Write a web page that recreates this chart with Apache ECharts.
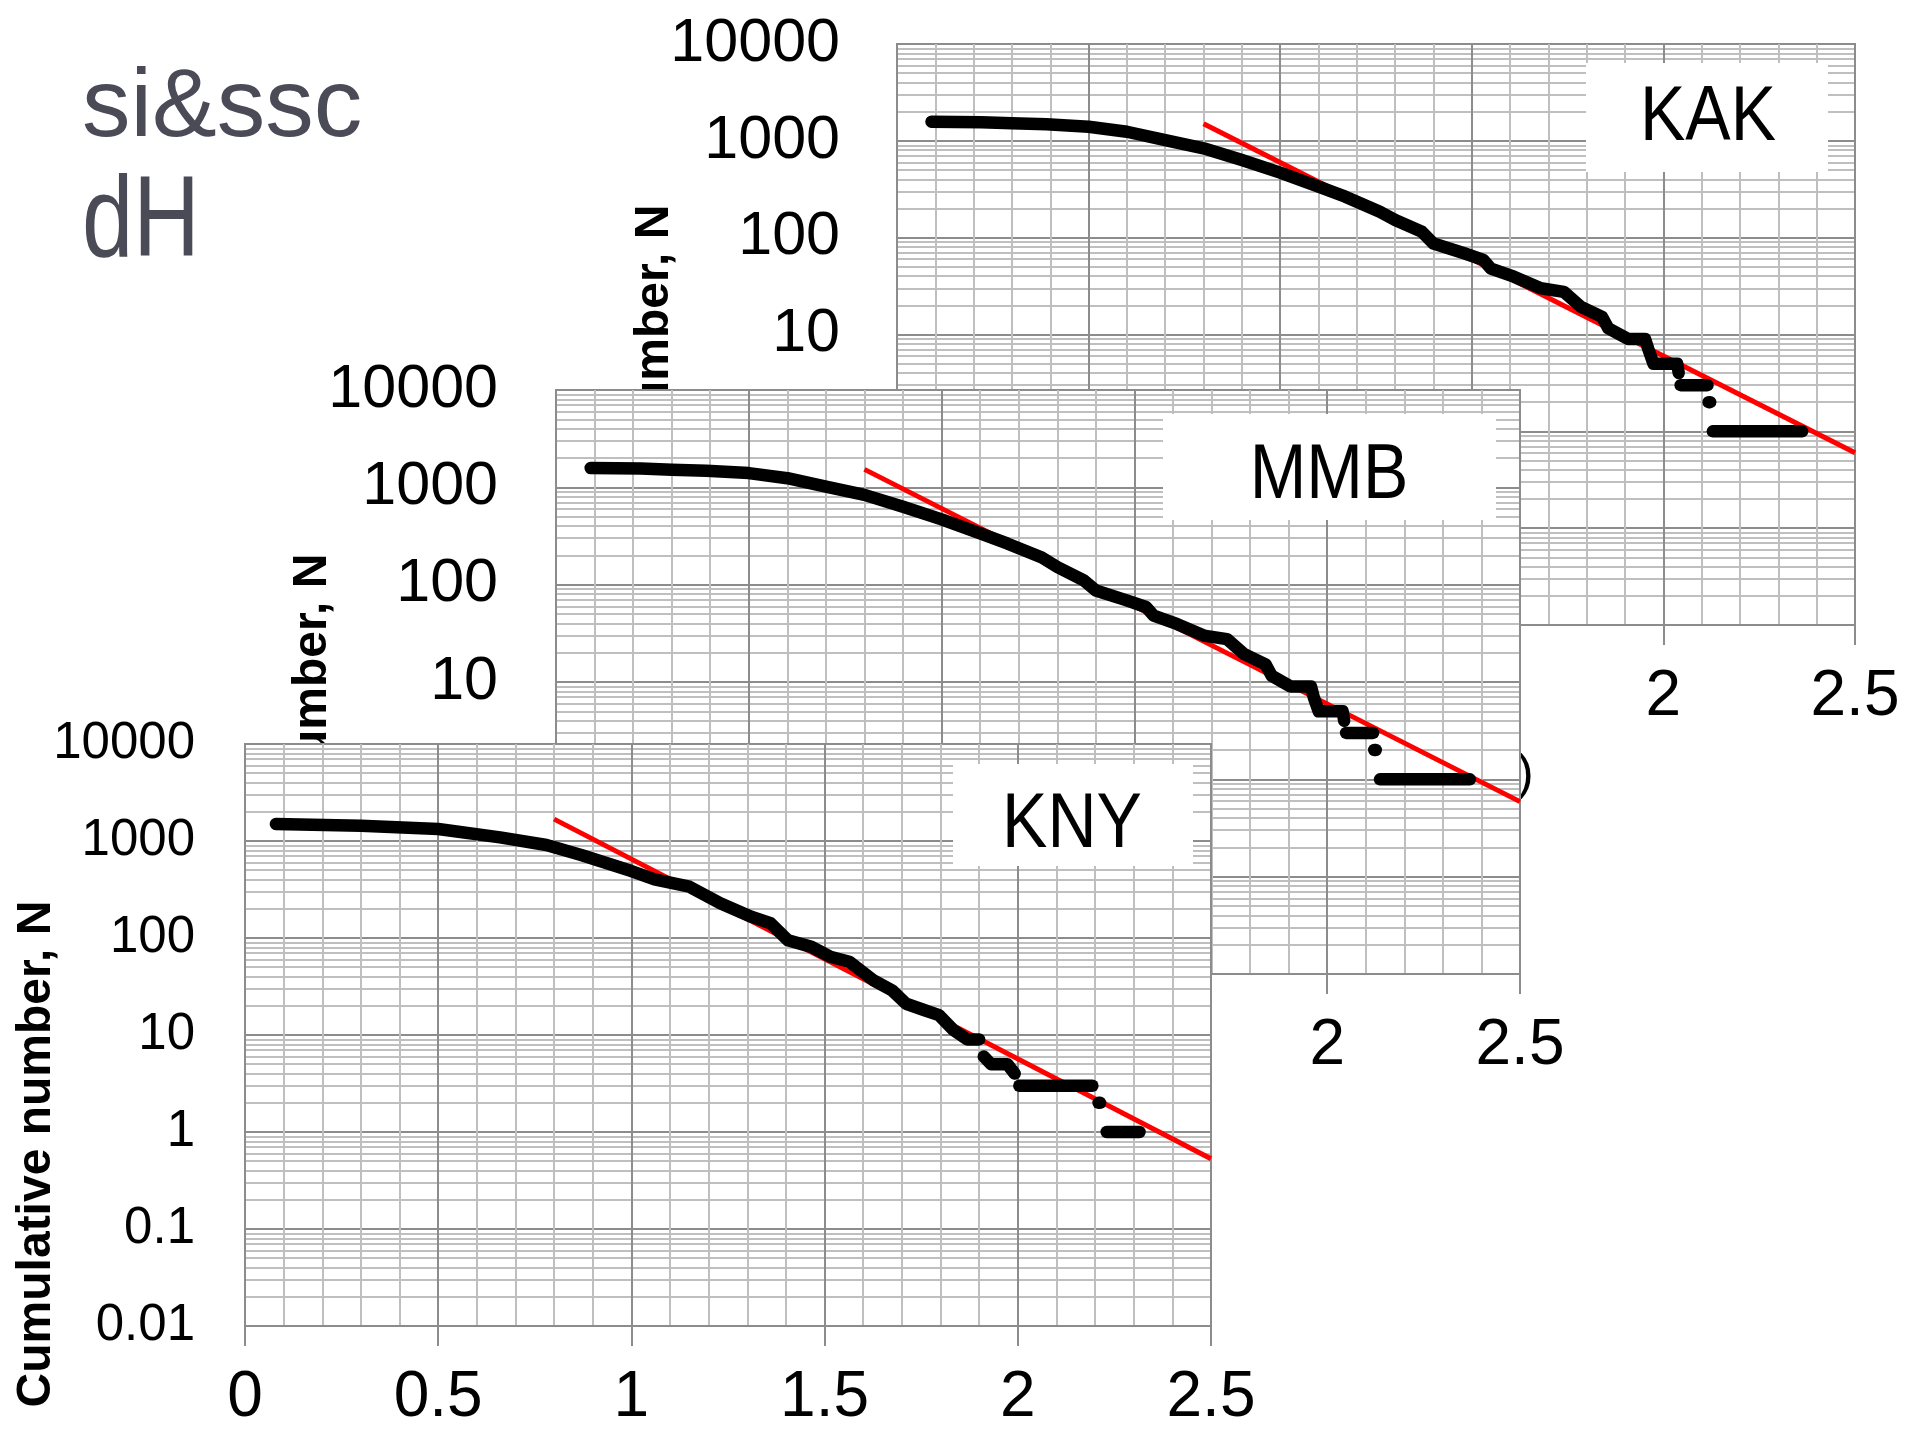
<!DOCTYPE html>
<html><head><meta charset="utf-8">
<script src="https://cdn.jsdelivr.net/npm/echarts@6/dist/echarts.min.js"></script>
<style>html,body{margin:0;padding:0;background:#fff}#c{width:1910px;height:1431px}</style>
</head><body><div id="c"></div>
<script>
// ================= DATA =================
const xTickLabels = ['0', '0.5', '1', '1.5', '2', '2.5'];
const yTickLabels = ['0.01', '0.1', '1', '10', '100', '1000', '10000'];
const minorGridValues = [
  0.02, 0.03, 0.04, 0.05, 0.06, 0.07, 0.08, 0.09,
  0.2, 0.3, 0.4, 0.5, 0.6, 0.7, 0.8, 0.9,
  2, 3, 4, 5, 6, 7, 8, 9,
  20, 30, 40, 50, 60, 70, 80, 90,
  200, 300, 400, 500, 600, 700, 800, 900,
  2000, 3000, 4000, 5000, 6000, 7000, 8000, 9000
];
const panelNames = ['KAK', 'MMB', 'KNY'];
const headerLines = ['si&ssc', 'dH'];
const yAxisTitle = 'Cumulative number, N';

// KAK
const kakMain = [[0.09,1577],[0.22,1560],[0.30,1517],[0.39,1480],[0.50,1400],[0.60,1241],[0.70,1019],
  [0.80,837],[0.90,633],[1.00,469],[1.10,336],[1.17,265],[1.26,185],[1.30,152],[1.37,115],[1.40,87],
  [1.48,69],[1.53,59],[1.55,48],[1.61,39.5],[1.68,30],[1.74,27.6],[1.785,19.3],[1.84,15.2],[1.856,11.6],
  [1.908,9],[1.952,9],[1.961,7],[1.974,5],[2.036,5],[2.040,4]];
const kakSteps = [[[2.045,3],[2.115,3]], [[2.118,2],[2.122,2]], [[2.129,1],[2.362,1]]];
const kakFit = [[0.8,1500],[2.5,0.6]];

// MMB
const mmbMain = [[0.09,1577],[0.22,1560],[0.30,1517],[0.39,1480],[0.50,1400],[0.60,1241],[0.70,1019],
  [0.80,837],[0.90,633],[1.00,469],[1.10,336],[1.17,265],[1.26,190],[1.30,152],[1.37,110],[1.40,87],
  [1.48,69],[1.53,59],[1.55,48],[1.61,39.5],[1.68,30],[1.74,27.6],[1.785,19.3],[1.84,15.2],[1.856,11.6],
  [1.905,9],[1.958,9],[1.965,7],[1.978,5],[2.040,5],[2.044,4]];
const mmbSteps = [[[2.049,3],[2.119,3]], [[2.122,2],[2.126,2]], [[2.137,1],[2.370,1]]];
const mmbFit = [[0.8,1530],[2.5,0.59]];

// KNY
const knyMain = [[0.08,1496],[0.30,1440],[0.50,1330],[0.66,1090],[0.78,910],[0.87,717],[1.00,490],
  [1.06,403],[1.15,338],[1.23,228],[1.31,166],[1.36,142],[1.405,95],[1.466,81],[1.515,64],[1.564,57],
  [1.625,37],[1.674,29],[1.711,21],[1.759,18],[1.796,16],[1.833,11.3],[1.869,9],[1.900,9]];
const knySteps = [[[1.912,6],[1.931,5],[1.973,5],[1.992,4]], [[2.004,3],[2.193,3]],
  [[2.209,2],[2.213,2]], [[2.230,1],[2.315,1]]];
const knyFit = [[0.8,1680],[2.5,0.53]];

// ================= LAYOUT =================
const FONT = '"Liberation Sans", Arial, Helvetica, sans-serif';
const panels = [
  { main: kakMain, steps: kakSteps, fit: kakFit, z: 0,
    grid: {left: 897, top: 44, width: 958, height: 581},
    yFont: 61, yMargin: 57, xFont: 64, xMargin: 40,
    box: [1586, 63, 242, 109], label: [1708, 119], title: [655, 458] },
  { main: mmbMain, steps: mmbSteps, fit: mmbFit, z: 10,
    grid: {left: 556, top: 390, width: 964, height: 584},
    yFont: 61, yMargin: 58, xFont: 64, xMargin: 40,
    box: [1163, 414, 333, 106], label: [1329, 477], title: [313, 807] },
  { main: knyMain, steps: knySteps, fit: knyFit, z: 20,
    grid: {left: 245, top: 744, width: 966, height: 582},
    yFont: 51, yMargin: 50, xFont: 64, xMargin: 40,
    box: [953, 764, 240, 102], label: [1072, 826], title: [37, 1154] }
];

const grids = [], xAxes = [], yAxes = [], series = [], graphics = [];
const MAJOR = '#8c8c8c', MINOR = '#bfbfbf';

panels.forEach((p, i) => {
  grids.push(Object.assign({show: true, backgroundColor: '#fff', borderColor: MAJOR, borderWidth: 2, z: p.z}, p.grid));
  xAxes.push({
    type: 'value', gridIndex: i, min: 0, max: 2.5, interval: 0.5, z: p.z + 2,
    axisLine: {show: true, onZero: false, lineStyle: {color: MAJOR, width: 2}},
    axisTick: {show: true, length: 20, lineStyle: {color: MAJOR, width: 2}},
    axisLabel: {show: true, margin: p.xMargin, color: '#000', fontSize: p.xFont, fontFamily: FONT,
      formatter: v => xTickLabels[Math.round(v / 0.5)]},
    splitLine: {show: true, lineStyle: {color: MAJOR, width: 2}},
    minorTick: {show: false, splitNumber: 5},
    minorSplitLine: {show: true, lineStyle: {color: MINOR, width: 2}}
  });
  yAxes.push({
    type: 'log', logBase: 10, gridIndex: i, min: 0.01, max: 10000, splitNumber: 6, z: p.z + 2,
    axisLine: {show: true, onZero: false, lineStyle: {color: MAJOR, width: 2}},
    axisTick: {show: false},
    axisLabel: {show: true, margin: p.yMargin, color: '#000', fontSize: p.yFont, fontFamily: FONT,
      formatter: v => yTickLabels[Math.round(Math.log10(v)) + 2]},
    splitLine: {show: true, lineStyle: {color: MAJOR, width: 2}},
    minorSplitLine: {show: false}
  });
  // minor log grid lines (2..9 in each decade)
  series.push({
    type: 'lines', coordinateSystem: 'cartesian2d', xAxisIndex: i, yAxisIndex: i, polyline: false,
    silent: true, z: p.z + 1, symbol: ['none', 'none'],
    lineStyle: {color: MINOR, width: 2, opacity: 1, curveness: 0},
    data: minorGridValues.map(v => ({coords: [[0, v], [2.5, v]]}))
  });
  // fitted red line
  series.push({
    type: 'line', xAxisIndex: i, yAxisIndex: i, data: p.fit, symbol: 'none', silent: true,
    z: p.z + 3, clip: true, lineStyle: {color: '#ff0000', width: 5}
  });
  // black cumulative curve
  [p.main].concat(p.steps).forEach(seg => {
    series.push({
      type: 'line', xAxisIndex: i, yAxisIndex: i, data: seg, symbol: 'none', silent: true,
      z: p.z + 4, clip: false,
      lineStyle: {color: '#000', width: 12.5, cap: 'round', join: 'round'}
    });
  });
  // panel label box
  graphics.push({type: 'rect', z: p.z + 5, silent: true,
    shape: {x: p.box[0], y: p.box[1], width: p.box[2], height: p.box[3]},
    style: {fill: '#fff'}});
  graphics.push({type: 'text', z: p.z + 6, silent: true, x: p.label[0], y: p.label[1], scaleY: 1.14,
    style: {text: panelNames[i], fontSize: 68, fontFamily: FONT, fill: '#000', textAlign: 'center', textVerticalAlign: 'middle'}});
  // y axis title
  graphics.push({type: 'text', z: p.z + 2, silent: true, x: p.title[0], y: p.title[1], rotation: Math.PI / 2,
    style: {text: yAxisTitle, fontSize: 48, fontWeight: 'bold', fontFamily: FONT, fill: '#000',
      textAlign: 'center', textVerticalAlign: 'middle'}});
});

// closing parenthesis of the hidden KAK x-axis title peeking out
graphics.push({type: 'text', z: 2, silent: true, x: 1517, y: 775,
  style: {text: ')', fontSize: 50, fontFamily: FONT, fill: '#000', textAlign: 'left', textVerticalAlign: 'middle'}});
// header text
graphics.push({type: 'text', z: 100, silent: true, x: 82, y: 109,
  style: {text: headerLines[0], fontSize: 97, fontFamily: FONT, fill: '#4b4b57', textAlign: 'left', textVerticalAlign: 'middle'}});
graphics.push({type: 'text', z: 100, silent: true, x: 82, y: 224, scaleX: 0.95, scaleY: 1.18,
  style: {text: headerLines[1], fontSize: 97, fontFamily: FONT, fill: '#4b4b57', textAlign: 'left', textVerticalAlign: 'middle'}});

const chart = echarts.init(document.getElementById('c'), null, {renderer: 'canvas'});
chart.setOption({
  animation: false,
  backgroundColor: '#fff',
  grid: grids, xAxis: xAxes, yAxis: yAxes, series: series,
  graphic: {elements: graphics}
});
</script></body></html>
